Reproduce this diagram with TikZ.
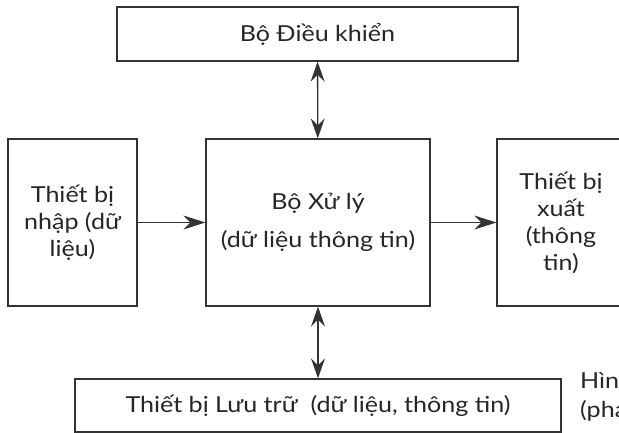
\documentclass[tikz,border=0pt]{standalone}
\usepackage{fontspec}
\setmainfont{Lato}[FakeStretch=1.14]
\usetikzlibrary{arrows.meta}
\begin{document}
\begin{tikzpicture}[x=1pt,y=-1pt,
  box/.style={draw=black!80, line width=1.3pt, inner sep=0pt, align=center,
    font=\fontsize{22}{27}\selectfont, text=black!85},
  link/.style={draw=black!80, line width=1.3pt, -{Stealth[length=22pt,width=14pt,inset=7pt]}},
  biglink/.style={draw=black!80, line width=1.3pt, {Stealth[length=20pt,width=14pt,inset=7pt]}-{Stealth[length=20pt,width=14pt,inset=7pt]}},
  plain/.style={inner sep=0pt, anchor=base west, font=\fontsize{22}{27}\selectfont, text=black!85}]
\useasboundingbox (0,0) rectangle (619,433);
\clip (0,0) rectangle (619,433);
\fill[white] (0,0) rectangle (619,433);
\node[box, minimum width=401pt, minimum height=54pt] (top) at (317.5,34) {Bộ Điều khiển};
\node[box, minimum width=129pt, minimum height=167pt] (in) at (72.5,222.5) {Thiết bị\\nhập (dữ\\liệu)};
\node[box, minimum width=224pt, minimum height=167pt] (cpu) at (318,222.5) {Bộ Xử lý\\[11pt](dữ liệu thông tin)};
\node[box, minimum width=128pt, minimum height=167pt] (out) at (561,222.5) {Thiết bị\\xuất\\(thông\\tin)};
\node[box, minimum width=486pt, minimum height=53pt] (bot) at (318,405.5) {Thiết bị Lưu trữ\ \ (dữ liệu, thông tin)};
\node[plain] (fig1) at (580,388) {Hìn};
\node[plain] (fig2) at (580,417) {(pha};
\draw[biglink] (top) -- (cpu);
\draw[biglink] (cpu) -- (bot);
\draw[link] (in) -- (cpu);
\draw[link] (cpu) -- (out);
\end{tikzpicture}
\end{document}
